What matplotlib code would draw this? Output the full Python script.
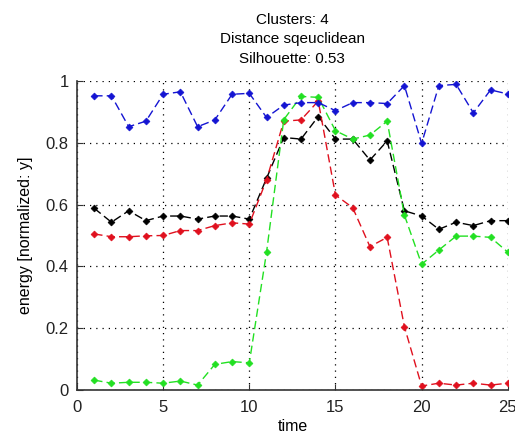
import matplotlib
matplotlib.use("Agg")
import matplotlib.pyplot as plt

plt.rcParams['font.family'] = ['Liberation Sans', 'DejaVu Sans']

time = list(range(1, 26))

blue = [0.952, 0.952, 0.852, 0.870, 0.957, 0.965, 0.852, 0.874, 0.957, 0.960,
        0.882, 0.922, 0.930, 0.930, 0.904, 0.930, 0.930, 0.927, 0.985, 0.798,
        0.985, 0.989, 0.897, 0.971, 0.958]
black = [0.588, 0.543, 0.580, 0.548, 0.563, 0.563, 0.553, 0.563, 0.563, 0.553,
         0.685, 0.817, 0.812, 0.885, 0.812, 0.812, 0.744, 0.806, 0.580, 0.563,
         0.520, 0.543, 0.532, 0.548, 0.548]
red = [0.505, 0.496, 0.496, 0.499, 0.500, 0.516, 0.516, 0.532, 0.541, 0.537,
       0.680, 0.870, 0.874, 0.935, 0.631, 0.590, 0.464, 0.494, 0.205, 0.013,
       0.022, 0.016, 0.022, 0.016, 0.022]
green = [0.032, 0.022, 0.025, 0.025, 0.022, 0.029, 0.016, 0.083, 0.092, 0.088,
         0.446, 0.875, 0.950, 0.947, 0.839, 0.812, 0.825, 0.870, 0.566, 0.407,
         0.453, 0.498, 0.498, 0.494, 0.446]

series = [(black, 'black'), (red, '#e0101e'), (green, '#22e022'), (blue, '#1414d2')]

fig = plt.figure(figsize=(5.15, 4.43), dpi=100)
ax = fig.add_axes([0.1495, 0.1196, 0.8365, 0.6976])

for vals, col in series:
    ax.plot(time, vals, linestyle=(0, (6, 3)), color=col, linewidth=1.0,
            marker='D', markersize=3.5, markeredgewidth=0.5)

ax.set_xlim(0, 25)
ax.set_ylim(0, 1)
ax.set_xticks([0, 5, 10, 15, 20, 25])
ax.set_yticks([0, 0.2, 0.4, 0.6, 0.8, 1])
ax.set_yticklabels(['0', '0.2', '0.4', '0.6', '0.8', '1'])
ax.grid(True, linestyle=(0, (1, 4)), color='black', linewidth=0.9)
ax.tick_params(direction='in', length=4, labelsize=12, color='#333333', colors='#222222')
ax.tick_params(axis='x', pad=7)
ax.tick_params(axis='y', pad=6)
for s in ['top', 'right']:
    ax.spines[s].set_visible(False)
for s in ['left', 'bottom']:
    ax.spines[s].set_color('#333333')
    ax.spines[s].set_linewidth(1.2)

ax.set_xlabel('time', fontsize=11.5, labelpad=3)
ax.set_ylabel('energy [normalized: y]', fontsize=11.5, labelpad=9)
ax.set_title('Clusters: 4\nDistance sqeuclidean\nSilhouette: 0.53',
             fontsize=11, linespacing=1.5, pad=13)

fig.savefig('out.png', dpi=100)
